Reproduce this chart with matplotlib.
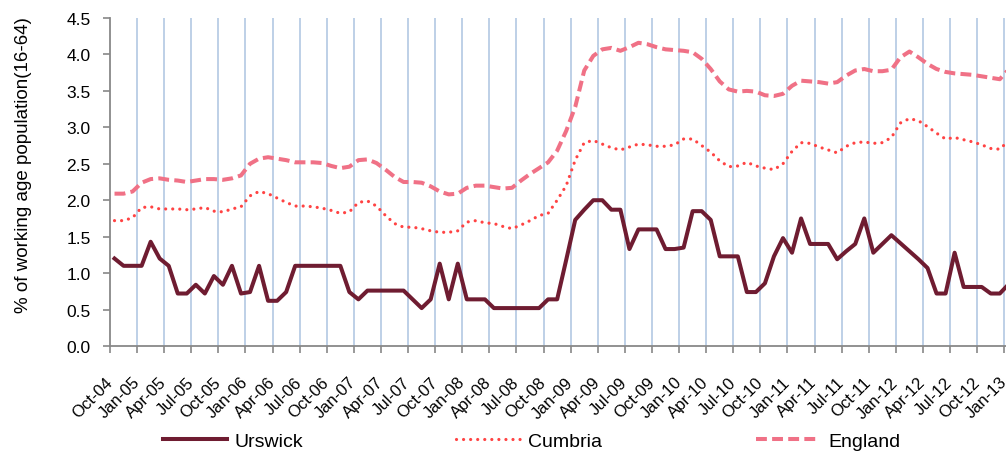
import numpy as np
import matplotlib.pyplot as plt
from matplotlib.lines import Line2D
from matplotlib.transforms import ScaledTranslation

# quarterly tick labels (one tick every 3 months, data is monthly)
tick_labels = ['Oct-04', 'Jan-05', 'Apr-05', 'Jul-05', 'Oct-05', 'Jan-06', 'Apr-06',
               'Jul-06', 'Oct-06', 'Jan-07', 'Apr-07', 'Jul-07', 'Oct-07', 'Jan-08',
               'Apr-08', 'Jul-08', 'Oct-08', 'Jan-09', 'Apr-09', 'Jul-09', 'Oct-09',
               'Jan-10', 'Apr-10', 'Jul-10', 'Oct-10', 'Jan-11', 'Apr-11', 'Jul-11',
               'Oct-11', 'Jan-12', 'Apr-12', 'Jul-12', 'Oct-12', 'Jan-13']

# monthly values, Oct-04 onwards (% of working age population)
urswick = [1.20, 1.10, 1.10, 1.10, 1.43, 1.20, 1.10, 0.72, 0.72, 0.84,
           0.72, 0.96, 0.84, 1.10, 0.72, 0.74, 1.10, 0.62, 0.62, 0.74,
           1.10, 1.10, 1.10, 1.10, 1.10, 1.10, 0.74, 0.64, 0.76, 0.76,
           0.76, 0.76, 0.76, 0.64, 0.52, 0.64, 1.13, 0.64, 1.13, 0.64,
           0.64, 0.64, 0.52, 0.52, 0.52, 0.52, 0.52, 0.52, 0.64, 0.64,
           1.18, 1.73, 1.87, 2.00, 2.00, 1.87, 1.87, 1.33, 1.60, 1.60,
           1.60, 1.33, 1.33, 1.35, 1.85, 1.85, 1.73, 1.23, 1.23, 1.23,
           0.74, 0.74, 0.86, 1.23, 1.48, 1.28, 1.75, 1.40, 1.40, 1.40,
           1.19, 1.30, 1.40, 1.75, 1.28, 1.40, 1.52, 1.41, 1.30, 1.19,
           1.07, 0.72, 0.72, 1.28, 0.81, 0.81, 0.81, 0.72, 0.72, 0.85]

cumbria = [1.72, 1.72, 1.76, 1.90, 1.91, 1.88, 1.88, 1.88, 1.87, 1.88,
           1.90, 1.85, 1.84, 1.88, 1.91, 2.06, 2.12, 2.09, 2.03, 1.97,
           1.92, 1.92, 1.91, 1.89, 1.86, 1.82, 1.84, 1.97, 1.99, 1.92,
           1.79, 1.68, 1.63, 1.63, 1.61, 1.58, 1.56, 1.56, 1.58, 1.70,
           1.72, 1.69, 1.68, 1.64, 1.61, 1.66, 1.72, 1.79, 1.82, 2.00,
           2.20, 2.55, 2.79, 2.82, 2.77, 2.72, 2.69, 2.73, 2.77, 2.76,
           2.74, 2.74, 2.76, 2.84, 2.84, 2.75, 2.66, 2.54, 2.46, 2.47,
           2.52, 2.47, 2.44, 2.42, 2.50, 2.67, 2.79, 2.78, 2.73, 2.69,
           2.65, 2.74, 2.79, 2.80, 2.78, 2.79, 2.86, 3.06, 3.12, 3.09,
           3.01, 2.92, 2.84, 2.86, 2.83, 2.80, 2.76, 2.71, 2.70, 2.82]

england = [2.09, 2.09, 2.12, 2.24, 2.29, 2.30, 2.28, 2.27, 2.25, 2.27,
           2.29, 2.29, 2.28, 2.30, 2.34, 2.50, 2.57, 2.59, 2.57, 2.55,
           2.52, 2.52, 2.52, 2.51, 2.47, 2.44, 2.46, 2.55, 2.56, 2.51,
           2.42, 2.32, 2.25, 2.25, 2.24, 2.19, 2.12, 2.08, 2.09, 2.17,
           2.20, 2.20, 2.18, 2.16, 2.17, 2.27, 2.36, 2.44, 2.52, 2.68,
           2.95, 3.28, 3.78, 3.98, 4.07, 4.09, 4.05, 4.10, 4.16, 4.14,
           4.10, 4.07, 4.06, 4.05, 4.03, 3.94, 3.80, 3.63, 3.52, 3.49,
           3.50, 3.49, 3.44, 3.43, 3.46, 3.57, 3.64, 3.63, 3.62, 3.60,
           3.62, 3.71, 3.78, 3.80, 3.77, 3.77, 3.79, 3.96, 4.04, 3.96,
           3.87, 3.80, 3.76, 3.74, 3.73, 3.72, 3.70, 3.68, 3.66, 3.80]

plt.rcParams['font.family'] = ['Liberation Sans', 'DejaVu Sans']

W, H = 1006, 452
fig = plt.figure(figsize=(W / 100, H / 100), dpi=100)
ax = fig.add_axes([110 / W, 1 - 347 / H, (W - 110) / W, (347 - 19) / H])

months = np.arange(len(urswick)) + 0.5
tick_pos = np.arange(len(tick_labels)) * 3

# light blue vertical gridlines at every quarter tick
for x in tick_pos[1:]:
    ax.axvline(x, color='#b9cde5', lw=1.3, zorder=0)

c_urs, c_cum, c_eng = '#6f1c31', '#ff4343', '#f07186'
ax.plot(months, england, color=c_eng, lw=2.9, dashes=(2.7, 1.3), zorder=2)
ax.plot(months, cumbria, color=c_cum, lw=2.3, dashes=(0.01, 2.2),
        dash_capstyle='round', zorder=3)
ax.plot(months, urswick, color=c_urs, lw=2.9, zorder=4)

ax.set_xlim(0, 896 / (27.1 / 3))
ax.set_ylim(0, 4.5)
ax.set_yticks(np.arange(0, 4.51, 0.5))
ax.set_yticklabels([f'{v:.1f}' for v in np.arange(0, 4.51, 0.5)], fontsize=12.5)
ax.set_xticks(tick_pos)
ax.set_xticklabels(tick_labels, fontsize=12, rotation=45, ha='right', va='center',
                   rotation_mode='anchor')
for lab in ax.get_xticklabels():
    lab.set_transform(lab.get_transform() + ScaledTranslation(0.08, 0, fig.dpi_scale_trans))

ax.tick_params(axis='x', direction='out', length=5, width=1.2, color='#888888', pad=19)
ax.tick_params(axis='y', direction='out', length=5, width=1.2, color='#888888', pad=9)
for s in ['top', 'right']:
    ax.spines[s].set_visible(False)
for s in ['left', 'bottom']:
    ax.spines[s].set_color('#888888')
    ax.spines[s].set_linewidth(1.3)

ax.set_ylabel('% of working age population(16-64)', fontsize=13.5)
ax.yaxis.set_label_coords(-0.087, 0.555)

# legend entries spread along the bottom like the original
entries = [('Urswick', dict(color=c_urs, lw=2.9), 163),
           ('Cumbria', dict(color=c_cum, lw=2.3, dashes=(0.01, 2.2), dash_capstyle='round'), 456),
           ('England', dict(color=c_eng, lw=2.9, dashes=(2.7, 1.3)), 756)]
for name, style, xpx in entries:
    fig.legend([Line2D([], [], **style)], [name], loc='center left',
               bbox_to_anchor=(xpx / W, 1 - 442 / H), frameon=False, fontsize=14,
               handlelength=3.3, handletextpad=0.4, borderpad=0, borderaxespad=0)

fig.savefig('out.png', dpi=100)
